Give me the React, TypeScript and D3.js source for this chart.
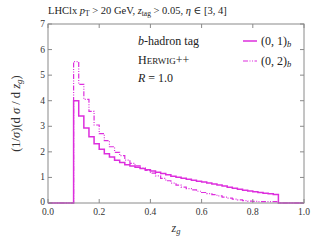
import * as d3 from 'd3';

// bin lower edges (width 0.02)
const binEdges = [
  0.10, 0.12, 0.14, 0.16, 0.18, 0.20, 0.22, 0.24, 0.26, 0.28,
  0.30, 0.32, 0.34, 0.36, 0.38, 0.40, 0.42, 0.44, 0.46, 0.48,
  0.50, 0.52, 0.54, 0.56, 0.58, 0.60, 0.62, 0.64, 0.66, 0.68,
  0.70, 0.72, 0.74, 0.76, 0.78, 0.80, 0.82, 0.84, 0.86, 0.88,
];
const binEnd = 0.9;

const series01 = [
  4.0, 3.4, 2.93, 2.59, 2.32, 2.1, 1.93, 1.8, 1.67, 1.58,
  1.5, 1.45, 1.4, 1.35, 1.3, 1.25, 1.2, 1.15, 1.1, 1.05,
  1.01, 0.97, 0.93, 0.89, 0.85, 0.82, 0.78, 0.74, 0.7, 0.66,
  0.62, 0.58, 0.54, 0.5, 0.47, 0.44, 0.41, 0.38, 0.36, 0.33,
];
const series02 = [
  5.53, 4.64, 4.05, 3.58, 3.05, 2.71, 2.44, 2.2, 1.98, 1.85,
  1.68, 1.55, 1.45, 1.36, 1.27, 1.17, 1.06, 0.96, 0.87, 0.78,
  0.7, 0.62, 0.56, 0.51, 0.46, 0.41, 0.37, 0.33, 0.28, 0.23,
  0.19, 0.15, 0.12, 0.09, 0.07, 0.06, 0.05, 0.05, 0.05, 0.05,
];

const xTicks = [0, 0.2, 0.4, 0.6, 0.8, 1.0];
const yTicks = [0, 1, 2, 3, 4, 5, 6, 7];

const W = 320;
const H = 240;
const M = { left: 48, right: 16, top: 24, bottom: 37 };
const color = '#dd2edd';
const axisColor = '#8a8a8a';
const font = '"Liberation Serif", "DejaVu Serif", serif';

function histPoints(vals: number[]): [number, number][] {
  const pts: [number, number][] = [[0, 0]];
  binEdges.forEach((e, i) => pts.push([e, vals[i]]));
  pts.push([binEnd, 0]);
  pts.push([1.0, 0]);
  return pts;
}

export default function App() {
  const x = d3.scaleLinear().domain([0, 1]).range([M.left, W - M.right]);
  const y = d3.scaleLinear().domain([0, 7]).range([H - M.bottom, M.top]);
  const line = d3
    .line<[number, number]>()
    .x((d) => x(d[0]))
    .y((d) => y(d[1]))
    .curve(d3.curveStepAfter);

  const x0 = x(0);
  const x1 = x(1);
  const y0 = y(0);
  const y1 = y(7);
  const dash = '5,1.5,1,1.5,1,1.5';

  return (
    <svg
      width={W}
      height={H}
      style={{ position: 'absolute', left: 0, top: 0, background: '#fff' }}
      fontFamily={font}
    >
      <text x={x0} y={14} fontSize={10.5} fill="#222">
        LHClx <tspan fontStyle="italic">p</tspan>
        <tspan fontSize={7.5} dy={2}>T</tspan>
        <tspan dy={-2}> &gt; 20 GeV,  </tspan>
        <tspan fontStyle="italic">z</tspan>
        <tspan fontSize={7.5} dy={2}>tag</tspan>
        <tspan dy={-2}> &gt; 0.05,  </tspan>
        <tspan fontStyle="italic">η</tspan>
        <tspan> ∈ [3, 4]</tspan>
      </text>

      <path d={line(histPoints(series02)) ?? ''} fill="none" stroke={color} strokeWidth={1.2} strokeDasharray={dash} />
      <path d={line(histPoints(series01)) ?? ''} fill="none" stroke={color} strokeWidth={1.5} />

      {/* frame */}
      <rect x={x0} y={y1} width={x1 - x0} height={y0 - y1} fill="none" stroke={axisColor} strokeWidth={1} />

      {xTicks.map((t) => (
        <g key={'x' + t}>
          <line x1={x(t)} x2={x(t)} y1={y0} y2={y0 - 4} stroke={axisColor} />
          <line x1={x(t)} x2={x(t)} y1={y1} y2={y1 + 4} stroke={axisColor} />
          <text x={x(t)} y={y0 + 12} fontSize={9.5} textAnchor="middle" fill="#333">
            {t.toFixed(1)}
          </text>
        </g>
      ))}
      {yTicks.map((t) => (
        <g key={'y' + t}>
          <line x1={x0} x2={x0 + 4} y1={y(t)} y2={y(t)} stroke={axisColor} />
          <line x1={x1} x2={x1 - 4} y1={y(t)} y2={y(t)} stroke={axisColor} />
          <text x={x0 - 3} y={y(t) + (t === 0 ? 2 : 3)} fontSize={9.5} textAnchor="end" fill="#333">
            {t}
          </text>
        </g>
      ))}

      {/* axis labels */}
      <text x={(x0 + x1) / 2} y={232} fontSize={12} textAnchor="middle" fill="#333" fontStyle="italic">
        z<tspan fontSize={8.5} dy={2}>g</tspan>
      </text>
      <text
        transform={`translate(20, ${(y0 + y1) / 2}) rotate(-90)`}
        fontSize={12.5}
        textAnchor="middle"
        fill="#333"
      >
        (1/<tspan fontStyle="italic">σ</tspan>)(d <tspan fontStyle="italic">σ</tspan> / d
        <tspan fontStyle="italic"> z</tspan>
        <tspan fontSize={9} fontStyle="italic" dy={2}>g</tspan>
        <tspan dy={-2}>)</tspan>
      </text>

      {/* annotations */}
      <g fontSize={12} fill="#222">
        <text x={138} y={45}>
          <tspan fontStyle="italic">b</tspan>-hadron tag
        </text>
        <text x={138} y={64}>
          H<tspan fontSize={9}>ERWIG</tspan>++
        </text>
        <text x={138} y={82}>
          <tspan fontStyle="italic">R</tspan> = 1.0
        </text>
      </g>

      {/* legend */}
      <g fontSize={12} fill="#222">
        <line x1={243} x2={257} y1={41} y2={41} stroke={color} strokeWidth={1.5} />
        <text x={261} y={45}>
          (0, 1)<tspan fontSize={8.5} fontStyle="italic" dy={2}>b</tspan>
        </text>
        <line x1={243} x2={257} y1={61} y2={61} stroke={color} strokeWidth={1.2} strokeDasharray={dash} />
        <text x={261} y={65}>
          (0, 2)<tspan fontSize={8.5} fontStyle="italic" dy={2}>b</tspan>
        </text>
      </g>
    </svg>
  );
}
